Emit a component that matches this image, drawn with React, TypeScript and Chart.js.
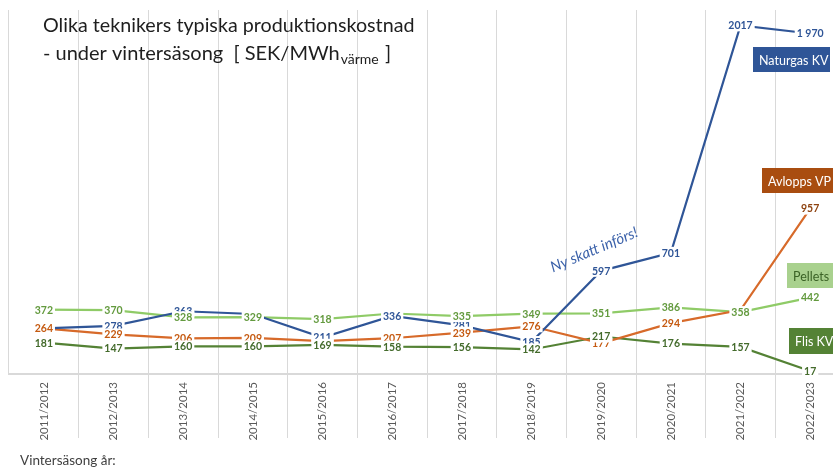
import React, { useEffect, useRef } from 'react';
import { Chart, registerables } from 'chart.js';
Chart.register(...registerables);

const categories = ['2011/2012', '2012/2013', '2013/2014', '2014/2015', '2015/2016', '2016/2017', '2017/2018', '2018/2019', '2019/2020', '2020/2021', '2021/2022', '2022/2023'];
const naturgasKV = [264, 278, 363, 347, 211, 336, 281, 185, 597, 701, 2017, 1970];
const avloppsVP = [264, 229, 206, 209, 190, 207, 239, 276, 177, 294, 370, 957];
const pellets = [372, 370, 328, 329, 318, 350, 335, 349, 351, 386, 358, 442];
const flisKV = [181, 147, 160, 160, 169, 158, 156, 142, 217, 176, 157, 17];

// points whose value label is not shown in the original
const naturgasHidden = [0, 3];
const avloppsHidden = [4, 10];
const pelletsHidden = [5];
const flisHidden: number[] = [];

const fmt = (v: number) => (v >= 1000 ? String(v).replace(/(\d)(\d{3})$/, '$1 $2') : String(v));
const naturgasText = naturgasKV.map((v, i) => (i === 10 ? String(v) : fmt(v)));

const FONT = 'Lato, "Open Sans", sans-serif';

export default function App() {
  const ref = useRef<HTMLCanvasElement>(null);
  useEffect(() => {
    if (!ref.current) return;
    const overlay = {
      id: 'overlay',
      afterDatasetsDraw(chart: any) {
        const ctx = chart.ctx;
        ctx.save();
        ctx.font = `bold 10.5px ${FONT}`;
        ctx.textAlign = 'center';
        ctx.textBaseline = 'middle';
        chart.data.datasets.forEach((ds: any, di: number) => {
          const meta = chart.getDatasetMeta(di);
          meta.data.forEach((pt: any, i: number) => {
            if (ds.hiddenLabels.includes(i)) return;
            const text = ds.labelText[i];
            const w = ctx.measureText(text).width;
            ctx.fillStyle = '#ffffff';
            ctx.fillRect(pt.x - w / 2 - 2, pt.y - 6, w + 4, 12);
            ctx.fillStyle = ds.labelColors ? ds.labelColors[i] || ds.labelColor : ds.labelColor;
            ctx.fillText(text, pt.x, pt.y + 0.5);
          });
        });
        // annotation
        const xs = chart.scales.x;
        const ys = chart.scales.y;
        ctx.save();
        ctx.translate(xs.getPixelForValue(8) - 7, ys.getPixelForValue(718));
        ctx.rotate((-23 * Math.PI) / 180);
        ctx.font = `italic 15px ${FONT}`;
        ctx.fillStyle = '#3C62AA';
        ctx.fillText('Ny skatt införs!', 0, 0);
        ctx.restore();
        ctx.restore();
      },
      afterDraw(chart: any) {
        const ctx = chart.ctx;
        ctx.save();
        // title
        ctx.textAlign = 'left';
        ctx.textBaseline = 'alphabetic';
        ctx.fillStyle = '#1E1E1E';
        ctx.font = `19.7px ${FONT}`;
        ctx.fillText('Olika teknikers typiska produktionskostnad', 43, 32);
        ctx.font = `20px ${FONT}`;
        const l2 = '- under vintersäsong\u00A0\u00A0[ SEK/MWh';
        ctx.fillText(l2, 43, 60);
        let x = 43 + ctx.measureText(l2).width;
        ctx.font = `14px ${FONT}`;
        ctx.fillText('värme', x + 1, 64);
        x += ctx.measureText('värme').width + 2;
        ctx.font = `20px ${FONT}`;
        ctx.fillText(' ]', x, 60);
        // axis title
        ctx.font = `13.5px ${FONT}`;
        ctx.fillStyle = '#404040';
        ctx.fillText('Vintersäsong år:', 20, 465);
        // series name boxes
        const boxes = [
          { t: 'Naturgas KV', x: 753, y: 47, w: 77, h: 25, bg: '#2F5597', fg: '#ffffff' },
          { t: 'Avlopps VP', x: 762, y: 168, w: 100, h: 25, bg: '#A94D10', fg: '#ffffff' },
          { t: 'Pellets', x: 787, y: 263, w: 100, h: 25, bg: '#A9D18E', fg: '#3B6326' },
          { t: 'Flis KV', x: 789, y: 328, w: 100, h: 26, bg: '#548235', fg: '#ffffff' },
        ];
        ctx.font = `12.5px ${FONT}`;
        ctx.textBaseline = 'middle';
        boxes.forEach((b) => {
          ctx.fillStyle = b.bg;
          ctx.fillRect(b.x, b.y, b.w, b.h);
          ctx.fillStyle = b.fg;
          ctx.fillText(b.t, b.x + 6, b.y + b.h / 2 + 1);
        });
        ctx.restore();
      },
    };

    const chart = new Chart(ref.current, {
      type: 'line',
      data: {
        labels: categories,
        datasets: [
          { label: 'Naturgas KV', data: naturgasKV, borderColor: '#2F5597', labelColor: '#2F5597', labelText: naturgasText, hiddenLabels: naturgasHidden } as any,
          { label: 'Avlopps VP', data: avloppsVP, borderColor: '#D76A2A', labelColor: '#C55A11', labelColors: { 11: '#8E4310' }, labelText: avloppsVP.map(fmt), hiddenLabels: avloppsHidden } as any,
          { label: 'Pellets', data: pellets, borderColor: '#8FCB67', labelColor: '#639A3E', labelText: pellets.map(fmt), hiddenLabels: pelletsHidden } as any,
          { label: 'Flis KV', data: flisKV, borderColor: '#548235', labelColor: '#446B2C', labelText: flisKV.map(fmt), hiddenLabels: flisHidden } as any,
        ],
      },
      options: {
        responsive: false,
        animation: false,
        events: [],
        layout: { padding: { left: 9, top: 10, right: 15, bottom: 0 } },
        elements: {
          line: { borderWidth: 2.2, tension: 0, fill: false },
          point: { radius: 0 },
        },
        plugins: {
          legend: { display: false },
          title: { display: false },
          tooltip: { enabled: false },
        },
        scales: {
          x: {
            offset: true,
            grid: {
              offset: true,
              color: '#D9D9D9',
              lineWidth: 1,
              tickLength: 64,
              tickColor: (c: any) => (c.index === 0 ? 'rgba(0,0,0,0)' : '#D9D9D9'),
            },
            border: { display: true, color: '#D9D9D9', width: 2 },
            ticks: {
              autoSkip: false,
              minRotation: 90,
              maxRotation: 90,
              padding: -56,
              color: '#595959',
              font: { family: FONT, size: 11.5 },
            },
            afterFit: (s: any) => {
              s.height = 96;
            },
          },
          y: {
            display: false,
            min: 0,
            max: 2106,
          },
        },
      },
      plugins: [overlay],
    });
    return () => chart.destroy();
  }, []);

  return (
    <div style={{ position: 'fixed', left: 0, top: 0, width: 833, height: 470, overflow: 'hidden', background: '#ffffff' }}>
      <canvas ref={ref} width={860} height={470} style={{ position: 'absolute', left: 0, top: 0, width: 860, height: 470 }} />
    </div>
  );
}
